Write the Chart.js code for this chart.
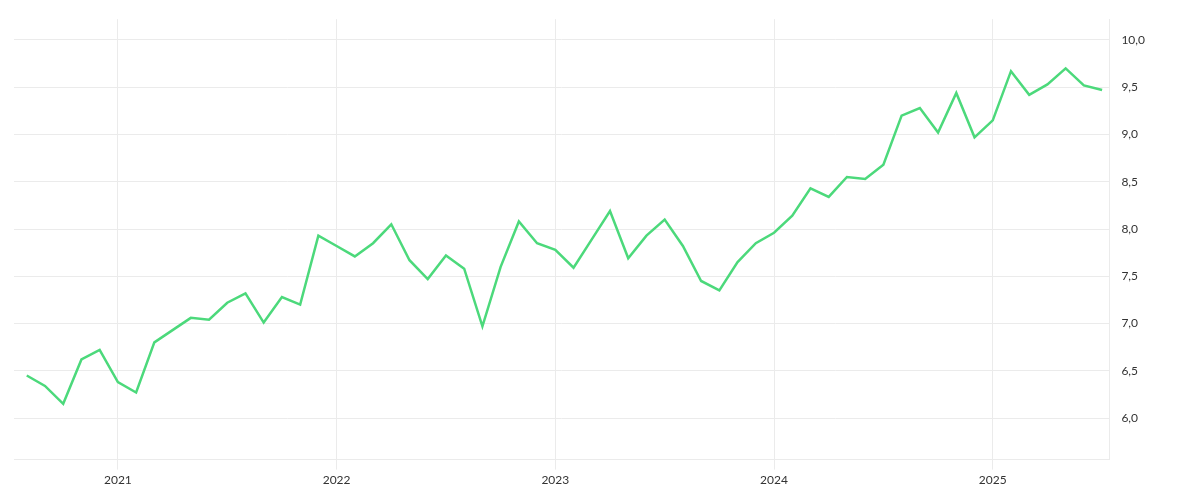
<!DOCTYPE html>
<html>
<head>
<meta charset="utf-8">
<script src="https://cdn.jsdelivr.net/npm/chart.js@4"></script>
<style>
  body { margin: 0; background: #fff; }
  #wrap { width: 1200px; height: 500px; }
</style>
</head>
<body>
<div id="wrap"><canvas id="myChart"></canvas></div>
<script>
// months counted from Jan 2021 (Aug 2020 = -5)
const startMonth = -5;
const values = [
  6.45, 6.34, 6.15, 6.62, 6.72,
  6.38, 6.27, 6.80, 6.93, 7.06, 7.04, 7.22, 7.32, 7.01, 7.28, 7.20, 7.93,
  7.82, 7.71, 7.85, 8.05, 7.67, 7.47, 7.72, 7.58, 6.97, 7.60, 8.08, 7.85,
  7.78, 7.59, 7.89, 8.19, 7.69, 7.93, 8.10, 7.82, 7.45, 7.35, 7.65, 7.85,
  7.96, 8.14, 8.43, 8.34, 8.55, 8.53, 8.68, 9.20, 9.28, 9.02, 9.44, 8.97,
  9.15, 9.67, 9.42, 9.53, 9.70, 9.52, 9.47
];
const yearTicks = [0, 12, 24, 36, 48];
const yearLabels = ['2021', '2022', '2023', '2024', '2025'];
const yTicks = [6, 6.5, 7, 7.5, 8, 8.5, 9, 9.5, 10];

const points = values.map((v, i) => ({ x: startMonth + i, y: v }));

const ctx = document.getElementById('myChart').getContext('2d');
new Chart(ctx, {
  type: 'line',
  data: {
    datasets: [{
      data: points,
      borderColor: '#4cd97b',
      borderWidth: 2.5,
      pointRadius: 0,
      tension: 0,
      fill: false
    }]
  },
  options: {
    responsive: true,
    maintainAspectRatio: false,
    animation: false,
    layout: { padding: { left: 14, right: 43, top: 5, bottom: 10 } },
    plugins: { legend: { display: false }, tooltip: { enabled: false } },
    scales: {
      x: {
        type: 'linear',
        min: -5.7,
        max: 54.4,
        afterBuildTicks: axis => { axis.ticks = yearTicks.map(v => ({ value: v })); },
        ticks: {
          color: '#333',
          font: { family: 'Lato', size: 12 },
          callback: v => yearLabels[yearTicks.indexOf(v)]
        },
        grid: { color: '#ebebeb', tickLength: 10 },
        border: { color: '#ebebeb' }
      },
      y: {
        position: 'right',
        min: 5.56,
        max: 10.22,
        afterBuildTicks: axis => { axis.ticks = yTicks.map(v => ({ value: v })); },
        ticks: {
          color: '#333',
          padding: 12,
          font: { family: 'Lato', size: 12 },
          callback: v => v.toFixed(1).replace('.', ',')
        },
        grid: { color: '#ebebeb', drawTicks: false },
        border: { color: '#ebebeb' }
      }
    }
  }
});
</script>
</body>
</html>
